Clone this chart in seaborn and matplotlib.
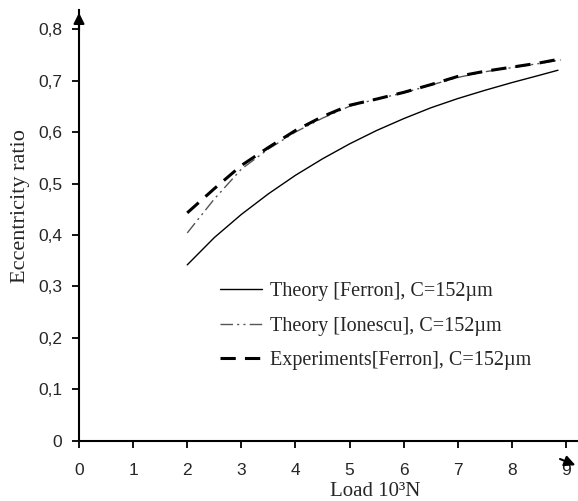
import matplotlib
matplotlib.use("Agg")
import matplotlib.pyplot as plt
import seaborn as sns

# load (10^3 N) and eccentricity ratio
load_ferron = [2.0, 2.5, 3.0, 3.5, 4.0, 4.5, 5.0, 5.5, 6.0, 6.5, 7.0, 7.5, 8.0, 8.5, 8.85]
ecc_ferron = [0.342, 0.395, 0.440, 0.480, 0.516, 0.548, 0.577, 0.603, 0.626, 0.647,
              0.665, 0.681, 0.696, 0.710, 0.720]

load_ionescu = [2.0, 2.5, 3.0, 3.5, 4.0, 4.5, 5.0, 5.5, 6.0, 6.5, 7.0, 7.5, 8.0, 8.5, 8.9]
ecc_ionescu = [0.404, 0.470, 0.528, 0.567, 0.600, 0.627, 0.650, 0.664, 0.676, 0.691,
               0.706, 0.717, 0.725, 0.733, 0.740]

load_exp = [2.0, 2.5, 3.0, 3.5, 4.0, 4.5, 5.0, 5.5, 6.0, 6.5, 7.0, 7.5, 8.0, 8.5, 8.9]
ecc_exp = [0.443, 0.490, 0.535, 0.570, 0.603, 0.630, 0.652, 0.664, 0.677, 0.692,
           0.708, 0.718, 0.726, 0.734, 0.742]

labels = ["Theory [Ferron], C=152\u00b5m",
          "Theory [Ionescu], C=152\u00b5m",
          "Experiments[Ferron], C=152\u00b5m"]

xticks = [0, 1, 2, 3, 4, 5, 6, 7, 8, 9]
yticks = [0, 0.1, 0.2, 0.3, 0.4, 0.5, 0.6, 0.7, 0.8]
ytick_labels = ["0", "0,1", "0,2", "0,3", "0,4", "0,5", "0,6", "0,7", "0,8"]

sns.set_theme(style="white")
plt.rcParams["font.family"] = ["Liberation Serif", "DejaVu Serif"]

fig = plt.figure(figsize=(5.78, 5.01), dpi=100)
ax = fig.add_axes([0.1367, 0.1198, 0.8633, 0.8603])

sns.lineplot(x=load_ferron, y=ecc_ferron, ax=ax, color="black", lw=1.0,
             label=labels[0], estimator=None)
sns.lineplot(x=load_ionescu, y=ecc_ionescu, ax=ax, color="#555555", lw=1.0,
             label=labels[1], estimator=None)
ax.lines[-1].set_dashes([9, 3, 1.5, 3, 1.5, 3])
sns.lineplot(x=load_exp, y=ecc_exp, ax=ax, color="black", lw=2.2,
             label=labels[2], estimator=None)
ax.lines[-1].set_dashes([5, 3])

ax.set_xlim(0, 9.22)
ax.set_ylim(0, 0.837)
ax.set_xticks(xticks)
ax.set_xticklabels([str(t) for t in xticks], family="Liberation Sans", fontsize=12.5)
ax.set_yticks(yticks)
ax.set_yticklabels(ytick_labels, family="Liberation Sans", fontsize=12.5)
ax.tick_params(axis="both", direction="out", length=5, width=1.3, color="black",
               left=True, bottom=True)
ax.tick_params(axis="y", pad=7)
ax.tick_params(axis="x", pad=11)

for s in ["top", "right"]:
    ax.spines[s].set_visible(False)
for s in ["left", "bottom"]:
    ax.spines[s].set_color("black")
    ax.spines[s].set_linewidth(1.5)

# arrow heads of the axes
ax.annotate("", xy=(0, 0.837), xytext=(0, 0.79), annotation_clip=False,
            arrowprops=dict(arrowstyle="-|>", mutation_scale=16, color="black", lw=1.5))
ax.annotate("", xy=(9.22, -0.049), xytext=(8.84, -0.033), annotation_clip=False,
            arrowprops=dict(arrowstyle="-|>", mutation_scale=16, color="black", lw=1.5))

ax.set_ylabel("Eccentricity ratio", fontsize=16)
ax.yaxis.set_label_coords(-0.098, 0.545)
ax.set_xlabel("Load 10\u00b3N", fontsize=15)
ax.xaxis.set_label_coords(0.593, -0.095)

leg = ax.legend(loc="upper left", bbox_to_anchor=(0.246, 0.41), frameon=False,
                fontsize=14.5, handlelength=2.1, handletextpad=0.4, labelspacing=0.75)

fig.savefig("out.png", dpi=100)
